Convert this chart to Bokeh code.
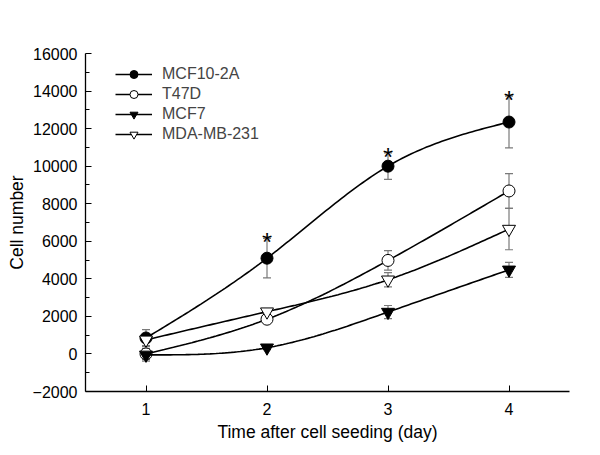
import numpy as np
from bokeh.plotting import figure
from bokeh.models import (ColumnDataSource, Whisker, TeeHead, FixedTicker,
                          Legend, LegendItem, Range1d)
from bokeh.embed import file_html
from bokeh.resources import INLINE
from bokeh.core.properties import value

# ---- data ----
days = [1, 2, 3, 4]
mcf10_2a = [850, 5100, 10000, 12350]
mcf10_2a_err = [450, 1050, 700, 1380]
t47d = [0, 1850, 4980, 8680]
t47d_err = [300, 150, 520, 920]
mcf7 = [-50, 330, 2230, 4480]
mcf7_err = [330, 100, 350, 400]
mda = [750, 2250, 3950, 6650]
mda_err = [300, 150, 380, 1100]
star_days = [2, 3, 4]
y_ticks = [-2000, 0, 2000, 4000, 6000, 8000, 10000, 12000, 14000, 16000]
y_minor = [-1000, 1000, 3000, 5000, 7000, 9000, 11000, 13000, 15000]

FONT = "Liberation Sans"


def spline(x, y, n=120):
    x = np.asarray(x, float)
    y = np.asarray(y, float)
    k = len(x)
    h = np.diff(x)
    A = np.zeros((k, k))
    b = np.zeros(k)
    A[0, 0] = A[-1, -1] = 1
    for i in range(1, k - 1):
        A[i, i - 1] = h[i - 1]
        A[i, i] = 2 * (h[i - 1] + h[i])
        A[i, i + 1] = h[i]
        b[i] = 6 * ((y[i + 1] - y[i]) / h[i] - (y[i] - y[i - 1]) / h[i - 1])
    M = np.linalg.solve(A, b)
    xs = np.linspace(x[0], x[-1], n)
    idx = np.clip(np.searchsorted(x, xs) - 1, 0, k - 2)
    x0 = x[idx]
    x1 = x[idx + 1]
    hh = x1 - x0
    a = (x1 - xs) / hh
    bb = (xs - x0) / hh
    ys = a * y[idx] + bb * y[idx + 1] + ((a ** 3 - a) * M[idx] + (bb ** 3 - bb) * M[idx + 1]) * hh ** 2 / 6
    return xs, ys


p = figure(width=584, height=447, output_backend="svg", toolbar_location=None,
           x_range=Range1d(0.5, 4.5), y_range=Range1d(-2000, 16000),
           min_border_left=85, min_border_right=15, min_border_top=53, min_border_bottom=56)
p.outline_line_color = None
p.xgrid.visible = False
p.ygrid.visible = False
p.background_fill_color = "white"
p.border_fill_color = "white"

series = [
    ("MCF10-2A", mcf10_2a, mcf10_2a_err, "circle", "black", 12),
    ("T47D", t47d, t47d_err, "circle", "white", 12),
    ("MCF7", mcf7, mcf7_err, "inverted_triangle", "black", 13),
    ("MDA-MB-231", mda, mda_err, "inverted_triangle", "white", 13),
]

items = []
for name, vals, errs, marker, fill, size in series:
    src = ColumnDataSource(dict(x=days, y=vals,
                                upper=[v + e for v, e in zip(vals, errs)],
                                lower=[v - e for v, e in zip(vals, errs)]))
    w = Whisker(base="x", upper="upper", lower="lower", source=src,
                line_color="#7a7a7a", line_width=1.2,
                upper_head=TeeHead(size=8, line_color="#7a7a7a", line_width=1.2),
                lower_head=TeeHead(size=8, line_color="#7a7a7a", line_width=1.2))
    p.add_layout(w)
    xs, ys = spline(days, vals)
    lr = p.line(xs, ys, line_color="black", line_width=1.6)
    mr = p.scatter("x", "y", source=src, marker=marker, size=size,
                   fill_color=fill, line_color="black", line_width=1)
    items.append(LegendItem(label=name, renderers=[lr, mr]))

# significance asterisks
star_y = [mcf10_2a[days.index(d)] + mcf10_2a_err[days.index(d)] for d in star_days]
p.text(x=star_days, y=star_y, text=["*"] * len(star_days), text_font=value(FONT),
       text_font_size="26px", text_align="center", text_baseline="alphabetic",
       y_offset=4, text_color="black")

legend = Legend(items=items, location=(30, 247), padding=0, margin=0, spacing=0,
                label_text_font=FONT, label_text_font_size="16px",
                glyph_width=37, glyph_height=20, label_height=20, label_standoff=10,
                border_line_color=None, background_fill_alpha=0)
p.add_layout(legend)

for ax in (p.xaxis, p.yaxis):
    ax.axis_line_color = "black"
    ax.axis_line_width = 1.3
    ax.major_tick_line_color = "black"
    ax.minor_tick_line_color = "black"
    ax.major_tick_in = 6
    ax.major_tick_out = 0
    ax.minor_tick_in = 4
    ax.minor_tick_out = 0
    ax.major_label_text_font = FONT
    ax.major_label_text_font_size = "16px"
    ax.major_label_text_color = "black"
    ax.axis_label_text_font = FONT
    ax.axis_label_text_font_size = "17.5px"
    ax.axis_label_text_font_style = "normal"
    ax.axis_label_text_color = "black"

p.xaxis.ticker = FixedTicker(ticks=days)
p.xaxis.major_label_standoff = 11
p.xaxis.axis_label = "Time after cell seeding (day)"
p.xaxis.axis_label_standoff = 4
p.yaxis.ticker = FixedTicker(ticks=y_ticks, minor_ticks=y_minor)
p.yaxis.major_label_standoff = 8
p.yaxis.axis_label = "Cell number"
p.yaxis.axis_label_standoff = 3

open("out.html", "w").write(file_html(p, INLINE))
